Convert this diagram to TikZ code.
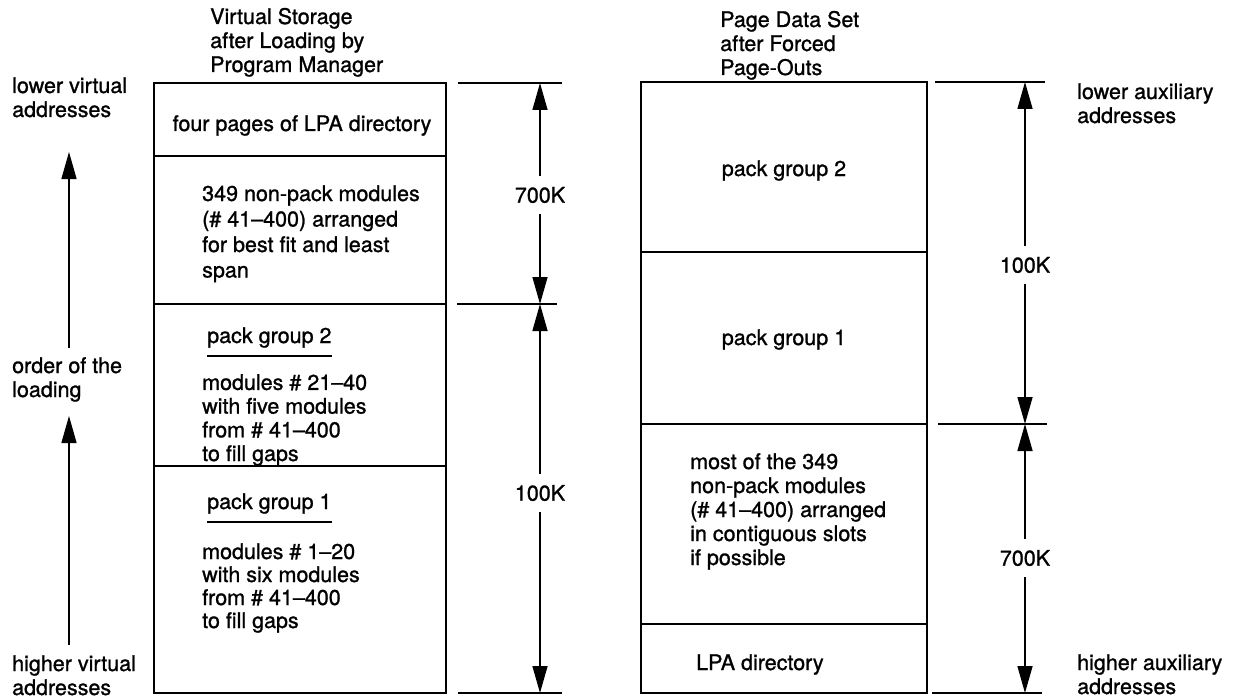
\documentclass[tikz,border=0pt]{standalone}
\usepackage{fontspec}
\setmainfont{TeX Gyre Heros}[FakeBold=1.1]
\usetikzlibrary{arrows.meta}
\newcommand\figfont{\fontsize{21.5}{24}\selectfont}
\tikzset{
  box/.style={line width=1.8pt},
  dimline/.style={line width=1.4pt},
  arr/.style={line width=1.5pt,-{Triangle[length=27pt,width=15pt]}},
  txt/.style={inner sep=0pt,anchor=base west,align=left,font=\figfont},
  lbl/.style={inner xsep=2pt,inner ysep=11pt,font=\figfont},
  uline/.style={line width=1.5pt}
}
\begin{document}
\begin{tikzpicture}[x=1pt,y=-1pt]
\useasboundingbox (0,0) rectangle (1237,698);
% left box
\draw[box] (154,83) rectangle (446,693);
\draw[box] (154,156) -- (446,156);
\draw[box] (154,304) -- (446,304);
\draw[box] (154,466) -- (446,466);
% right box
\draw[box] (641,82) rectangle (927,693);
\draw[box] (641,252) -- (927,252);
\draw[box] (641,424) -- (927,424);
\draw[box] (641,624) -- (927,624);
% headers (anchor = baseline of last line)
\node[txt] (h1) at (210,72) {Virtual Storage\\after Loading by\\Program Manager};
\node[txt] (h2) at (720,75) {Page Data Set\\after Forced\\Page-Outs};
% side labels
\node[txt] (lv) at (12,117) {lower virtual\\addresses};
\node[txt] (ol) at (12,397) {order of the\\loading};
\node[txt] (hv) at (12,695) {higher virtual\\addresses};
\node[txt] (la) at (1077,123) {lower auxiliary\\addresses};
\node[txt] (ha) at (1077,694) {higher auxiliary\\addresses};
% left order arrows
\coordinate (a1b) at (69,348);
\coordinate (a1t) at (69,152);
\draw[arr] (a1b) -- (a1t);
\coordinate (a2b) at (69,645);
\coordinate (a2t) at (69,416);
\draw[arr] (a2b) -- (a2t);
% left dimensions
\draw[dimline] (458,83) -- (562,83);
\draw[dimline] (457,304) -- (557,304);
\draw[dimline] (458,693) -- (562,693);
\coordinate (d1t) at (540,83);
\coordinate (d1m) at (540,304);
\coordinate (d1b) at (540,693);
\node[lbl] (k700a) at (540,195) {700K};
\node[lbl] (k100a) at (540,493) {100K};
\draw[arr] (k700a) -- (d1t);
\draw[arr] (k700a) -- (d1m);
\draw[arr] (k100a) -- (d1m);
\draw[arr] (k100a) -- (d1b);
% right dimensions
\draw[dimline] (935,82) -- (1045,82);
\draw[dimline] (938,424) -- (1047,424);
\draw[dimline] (932,693) -- (1042,693);
\coordinate (d2t) at (1025,82);
\coordinate (d2m) at (1025,424);
\coordinate (d2b) at (1025,693);
\node[lbl] (k100b) at (1025,265) {100K};
\node[lbl] (k700b) at (1025,558) {700K};
\draw[arr] (k100b) -- (d2t);
\draw[arr] (k100b) -- (d2m);
\draw[arr] (k700b) -- (d2m);
\draw[arr] (k700b) -- (d2b);
% left box texts
\node[txt,anchor=base] (lpa4) at (302,131) {four pages of LPA directory};
\node[txt,font=\fontsize{21.5}{25.5}\selectfont] (np) at (202,277.5) {349 non-pack modules\\(\# 41\textendash400) arranged\\for best fit and least\\span};
\node[txt] (pg2) at (207,343) {pack group 2};
\draw[uline] ([yshift=-13pt]pg2.base west) -- ([yshift=-13pt]pg2.base east);
\node[txt,font=\fontsize{21.5}{23.7}\selectfont] (m2) at (202,461) {modules \# 21\textendash40\\with five modules\\from \# 41\textendash400\\to fill gaps};
\node[txt] (pg1) at (207,509) {pack group 1};
\draw[uline] ([yshift=-13pt]pg1.base west) -- ([yshift=-13pt]pg1.base east);
\node[txt,font=\fontsize{21.5}{23}\selectfont] (m1) at (202,628) {modules \# 1\textendash20\\with six modules\\from \# 41\textendash400\\to fill gaps};
% right box texts
\node[txt,anchor=base] (rpg2) at (784,176) {pack group 2};
\node[txt,anchor=base] (rpg1) at (784,345) {pack group 1};
\node[txt] (most) at (690,565) {most of the 349\\non-pack modules\\(\# 41\textendash400) arranged\\in contiguous slots\\if possible};
\node[txt] (lpad) at (696,670) {LPA directory};
\end{tikzpicture}
\end{document}
